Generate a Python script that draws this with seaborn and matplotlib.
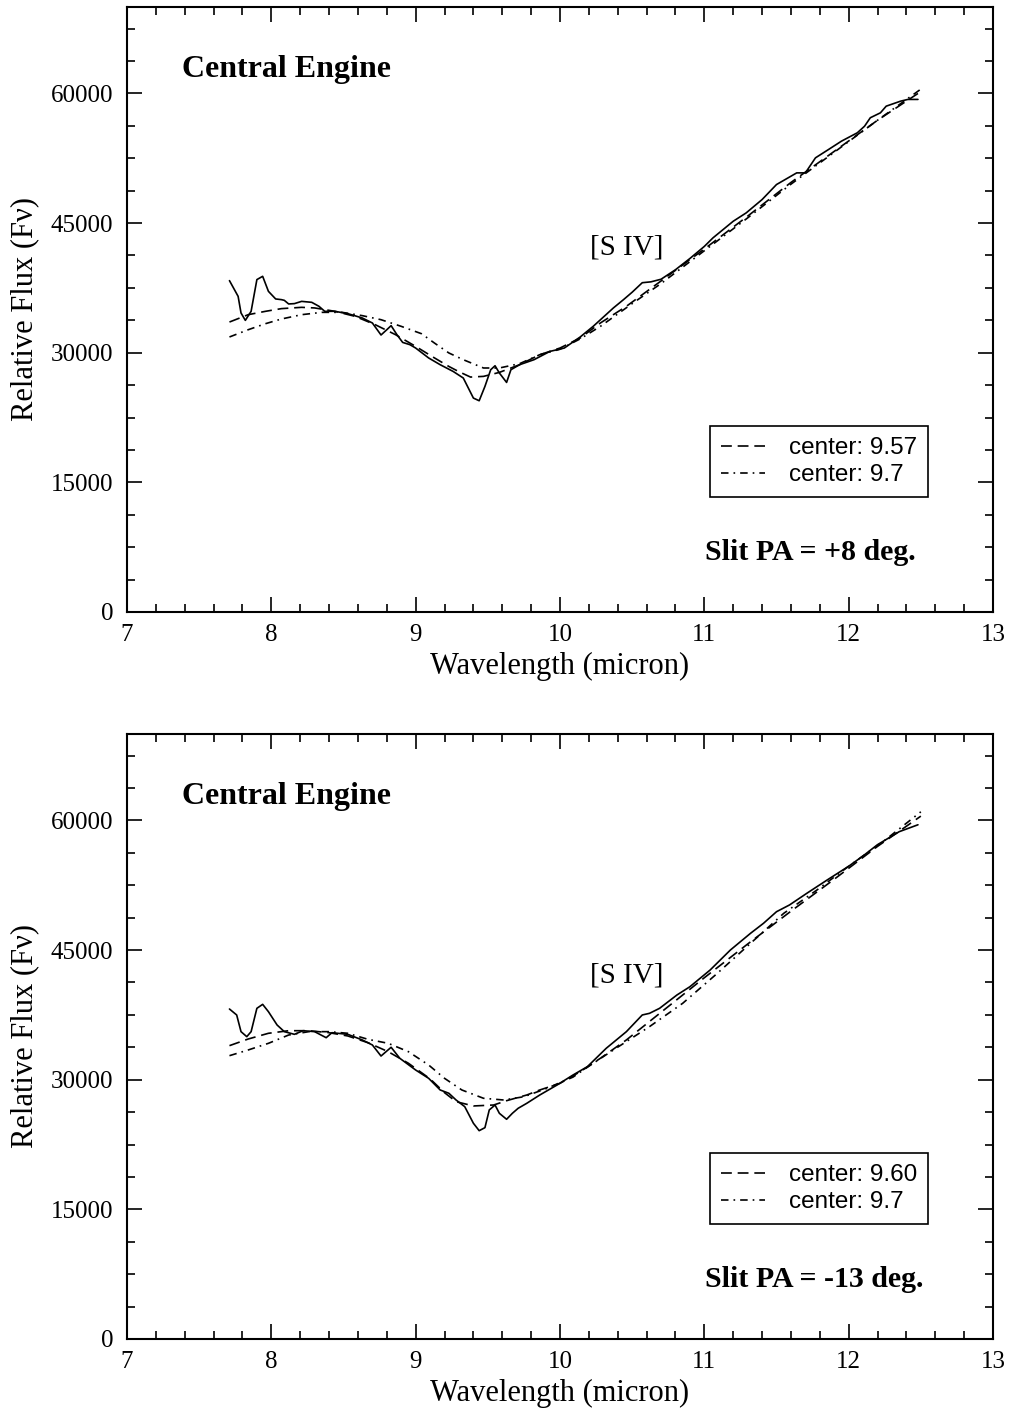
import numpy as np
import pandas as pd
import matplotlib
matplotlib.use("Agg")
import matplotlib.pyplot as plt
from matplotlib.ticker import MultipleLocator
from matplotlib.lines import Line2D
import seaborn as sns

# ---------------- data ----------------
# Top panel: Slit PA = +8 deg.
top_obs_x = [7.71, 7.77, 7.79, 7.82, 7.86, 7.90, 7.94, 7.98, 8.03, 8.07, 8.09, 8.12, 8.16, 8.21,
             8.28, 8.33, 8.37, 8.44, 8.53, 8.63, 8.70, 8.76, 8.80, 8.83, 8.87, 8.91, 8.96, 9.00,
             9.09, 9.17, 9.26, 9.33, 9.40, 9.44, 9.48, 9.52, 9.55, 9.58, 9.63, 9.66, 9.72, 9.82,
             9.93, 10.03, 10.14, 10.23, 10.37, 10.44, 10.50, 10.57, 10.63, 10.70, 10.80, 10.90,
             11.00, 11.06, 11.20, 11.29, 11.40, 11.50, 11.64, 11.70, 11.77, 11.86, 11.95, 12.06,
             12.11, 12.15, 12.22, 12.26, 12.36, 12.41, 12.48]
top_obs_y = [38340, 36520, 34600, 33740, 34790, 38460, 38840, 37100, 36220, 36140, 36060, 35640,
             35680, 35940, 35830, 35370, 34790, 34790, 34520, 34020, 33440, 32050, 32660, 33130,
             32090, 31190, 30930, 30540, 29390, 28610, 27830, 27070, 24750, 24440, 26100, 28030,
             28490, 27650, 26560, 28030, 28610, 29190, 30150, 30540, 31820, 33050, 35180, 36140,
             37000, 38100, 38200, 38500, 39600, 40900, 42300, 43290, 45210, 46180, 47720, 49460,
             50810, 50810, 52550, 53510, 54480, 55450, 56210, 57190, 57760, 58530, 59110, 59310,
             59310]
top_m1_x = [7.71, 7.84, 7.96, 8.07, 8.21, 8.30, 8.44, 8.58, 8.72, 8.86, 9.00, 9.12, 9.23, 9.30,
            9.38, 9.47, 9.58, 9.72, 9.86, 10.00, 10.14, 10.28, 10.46, 10.70, 11.00, 11.30, 11.60,
            11.90, 12.20, 12.48]
top_m1_y = [33550, 34400, 34790, 35100, 35250, 35180, 34790, 34210, 33240, 32090, 30730, 29500,
            28410, 27800, 27180, 27260, 27720, 28610, 29770, 30540, 31700, 33440, 35370, 38300,
            42000, 45800, 49700, 53300, 56900, 60000]
top_m2_x = [7.71, 7.84, 7.96, 8.07, 8.21, 8.35, 8.49, 8.63, 8.76, 8.90, 9.04, 9.13, 9.23, 9.33,
            9.47, 9.58, 9.72, 9.86, 10.00, 10.14, 10.28, 10.51, 10.70, 11.00, 11.30, 11.60, 11.90,
            12.20, 12.50]
top_m2_y = [31820, 32660, 33360, 33900, 34400, 34670, 34670, 34290, 33820, 33050, 32200, 31120,
            29970, 29190, 28230, 28230, 28730, 29770, 30400, 31600, 33050, 35800, 38000, 41800,
            45600, 49500, 53200, 56900, 60500]

# Bottom panel: Slit PA = -13 deg.
bot_obs_x = [7.71, 7.76, 7.79, 7.83, 7.86, 7.90, 7.94, 7.98, 8.04, 8.09, 8.16, 8.22, 8.30, 8.38,
             8.42, 8.53, 8.63, 8.70, 8.76, 8.83, 8.89, 9.00, 9.09, 9.17, 9.23, 9.28, 9.34, 9.40,
             9.44, 9.48, 9.51, 9.55, 9.58, 9.63, 9.67, 9.71, 9.77, 9.86, 9.98, 10.09, 10.19,
             10.32, 10.46, 10.57, 10.62, 10.69, 10.81, 10.90, 11.04, 11.18, 11.32, 11.41, 11.50,
             11.59, 11.71, 11.85, 12.00, 12.10, 12.20, 12.35, 12.48]
bot_obs_y = [38180, 37490, 35560, 34980, 35560, 38260, 38720, 37870, 36330, 35560, 35250, 35670,
             35560, 34860, 35440, 35250, 34600, 34020, 32740, 33750, 32480, 31120, 30160, 28810,
             28430, 27650, 26880, 24960, 24100, 24450, 26500, 27070, 26110, 25420, 26110, 26690,
             27270, 28230, 29390, 30540, 31510, 33630, 35560, 37490, 37680, 38260, 39800, 40760,
             42690, 45000, 46940, 48100, 49440, 50220, 51570, 53100, 54700, 55900, 57200, 58700,
             59500]
bot_m1_x = [7.71, 7.84, 7.98, 8.12, 8.26, 8.40, 8.53, 8.67, 8.81, 8.95, 9.10, 9.20, 9.28, 9.40,
            9.54, 9.63, 9.77, 9.86, 10.00, 10.14, 10.28, 10.46, 10.70, 11.00, 11.30, 11.60, 11.90,
            12.20, 12.50]
bot_m1_y = [33940, 34710, 35370, 35670, 35670, 35440, 35060, 34280, 33240, 31900, 30100, 28500,
            27460, 26960, 27070, 27570, 28230, 28810, 29580, 30930, 32480, 34600, 37800, 41800,
            45700, 49500, 53200, 57000, 60500]
bot_m2_x = [7.71, 7.84, 7.98, 8.12, 8.26, 8.40, 8.53, 8.67, 8.81, 8.95, 9.09, 9.20, 9.32, 9.47,
            9.61, 9.75, 9.91, 10.09, 10.23, 10.37, 10.62, 10.85, 11.09, 11.32, 11.55, 11.78,
            12.00, 12.25, 12.50]
bot_m2_y = [32780, 33440, 34210, 35170, 35560, 35560, 35370, 34670, 34210, 33240, 31700, 30160,
            28810, 27850, 27650, 28030, 29000, 30300, 31900, 33440, 36140, 38840, 42310, 45780,
            49250, 51950, 54700, 57700, 61000]

x_ticks = [7, 8, 9, 10, 11, 12, 13]
y_ticks = [0, 15000, 30000, 45000, 60000]
top_labels = ["center: 9.57", "center: 9.7"]
bot_labels = ["center: 9.60", "center: 9.7"]
panel_titles = ["Central Engine", "Central Engine"]
slit_texts = ["Slit PA = +8 deg.", "Slit PA = -13 deg."]
line_label = "[S IV]"

# ---------------- style ----------------
sns.set_theme(style="ticks")
plt.rcParams["font.family"] = ["Liberation Serif", "DejaVu Serif"]
plt.rcParams["axes.linewidth"] = 1.5
plt.rcParams["axes.edgecolor"] = "black"
plt.rcParams["text.color"] = "black"
plt.rcParams["axes.labelcolor"] = "black"
plt.rcParams["xtick.color"] = "black"
plt.rcParams["ytick.color"] = "black"

SERIF = ["Liberation Serif", "DejaVu Serif"]
SANS = ["Liberation Sans", "DejaVu Sans"]

DASH = (6.5, 3.5)
DASHDOT = (4.5, 3, 1, 3)

fig = plt.figure(figsize=(10.11, 14.10), dpi=100)
ax_top = fig.add_axes([0.1256, 0.566, 0.8566, 0.429])
ax_bot = fig.add_axes([0.1256, 0.0504, 0.8566, 0.429])


def build_df(ox, oy, m1x, m1y, m2x, m2y, labels):
    frames = [
        pd.DataFrame({"wl": ox, "flux": oy, "series": "observed"}),
        pd.DataFrame({"wl": m1x, "flux": m1y, "series": labels[0]}),
        pd.DataFrame({"wl": m2x, "flux": m2y, "series": labels[1]}),
    ]
    return pd.concat(frames, ignore_index=True)


panels = [
    (ax_top, build_df(top_obs_x, top_obs_y, top_m1_x, top_m1_y, top_m2_x, top_m2_y, top_labels),
     top_labels, slit_texts[0], panel_titles[0], 41400),
    (ax_bot, build_df(bot_obs_x, bot_obs_y, bot_m1_x, bot_m1_y, bot_m2_x, bot_m2_y, bot_labels),
     bot_labels, slit_texts[1], panel_titles[1], 41200),
]

for ax, df, labels, slit, title, siv_y in panels:
    order = ["observed", labels[0], labels[1]]
    sns.lineplot(data=df, x="wl", y="flux", hue="series", style="series",
                 hue_order=order, style_order=order,
                 palette={k: "black" for k in order},
                 dashes={order[0]: "", order[1]: DASH, order[2]: DASHDOT},
                 estimator=None, sort=False, linewidth=1.2, legend=False, ax=ax)

    ax.set_xlim(7, 13)
    ax.set_ylim(0, 70000)
    ax.set_xticks(x_ticks)
    ax.set_yticks(y_ticks)
    ax.set_xticklabels([str(t) for t in x_ticks])
    ax.set_yticklabels([str(t) for t in y_ticks])
    ax.xaxis.set_minor_locator(MultipleLocator(0.2))
    ax.yaxis.set_minor_locator(MultipleLocator(3750))
    ax.tick_params(which="both", direction="in", top=True, right=True, color="black", width=1.2)
    ax.tick_params(which="major", length=11, labelsize=18, labelcolor="black")
    ax.tick_params(axis="y", which="major", pad=10)
    ax.tick_params(axis="x", which="major", pad=9)
    ax.tick_params(which="minor", length=6)
    for lbl in ax.get_xticklabels() + ax.get_yticklabels():
        lbl.set_family(SERIF)
    for sp in ax.spines.values():
        sp.set_visible(True)
        sp.set_linewidth(1.5)
        sp.set_color("black")

    ax.set_xlabel("Wavelength (micron)", fontsize=22, family=SERIF, labelpad=4, color="black")
    ax.set_ylabel("Relative Flux (F\u03bd)", fontsize=22, family=SERIF, labelpad=8, color="black")

    ax.text(0.0635, 0.884, title, transform=ax.transAxes, fontsize=23, fontweight="bold",
            family=SERIF, va="baseline", ha="left", color="black")
    ax.text(0.667, 0.086, slit, transform=ax.transAxes, fontsize=21.5, fontweight="bold",
            family=SERIF, va="baseline", ha="left", color="black")
    ax.text(10.21, siv_y, line_label, fontsize=21, family=SERIF, va="baseline", ha="left",
            color="black")

    handles = [
        Line2D([], [], color="black", linewidth=1.2, dashes=DASH),
        Line2D([], [], color="black", linewidth=1.2, dashes=DASHDOT),
    ]
    leg = ax.legend(handles, labels, loc="lower right", bbox_to_anchor=(0.925, 0.19),
                    frameon=True, fancybox=False, framealpha=1, edgecolor="black",
                    prop={"family": SANS, "size": 17.5}, handlelength=1.8, handletextpad=1.0,
                    borderpad=0.45, labelspacing=0.2, borderaxespad=0)
    leg.get_frame().set_linewidth(1.2)
    for t in leg.get_texts():
        t.set_color("black")

fig.savefig("out.png", dpi=100, facecolor="white")
